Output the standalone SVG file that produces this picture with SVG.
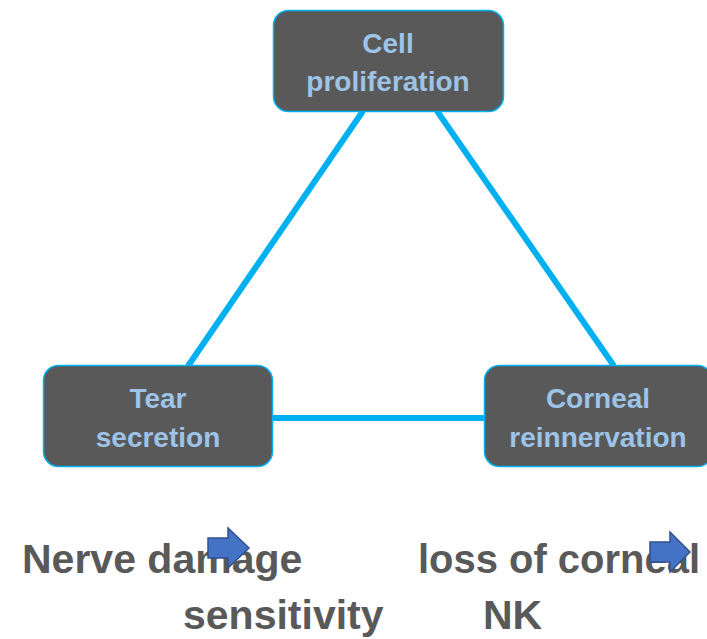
<svg xmlns="http://www.w3.org/2000/svg" width="707" height="639" viewBox="0 0 707 639">
<style>
.box{fill:#595959;stroke:#00B0F0;stroke-width:1.5}
.bt{font-family:"Liberation Sans",Arial,sans-serif;font-weight:bold;font-size:28px;fill:#9DC3E6;text-anchor:middle}
.conn{stroke:#00B0F0;stroke-width:6;fill:none}
.big{font-family:"Liberation Sans",Arial,sans-serif;font-weight:bold;font-size:41px;fill:#595959}
.arr{fill:#4472C4;stroke:#2F528F;stroke-width:1.5}
</style>
<rect width="707" height="639" fill="#fff"/>
<g id="connectors">
<line class="conn" x1="363" y1="111" x2="188" y2="366"/>
<line class="conn" x1="437" y1="111" x2="614" y2="366"/>
<line class="conn" x1="272" y1="418" x2="485" y2="418"/>
</g>
<g id="cell">
<rect class="box" x="273.5" y="10.5" width="230" height="101" rx="15"/>
<text class="bt" x="388" y="53">Cell</text>
<text class="bt" x="388" y="91">proliferation</text>
</g>
<g id="tear">
<rect class="box" x="43.5" y="365.5" width="229" height="101" rx="15"/>
<text class="bt" x="158" y="408">Tear</text>
<text class="bt" x="158" y="447">secretion</text>
</g>
<g id="corneal">
<rect class="box" x="484.5" y="365.5" width="228" height="101" rx="15"/>
<text class="bt" x="598" y="408">Corneal</text>
<text class="bt" x="598" y="447">reinnervation</text>
</g>
<g id="caption">
<text class="big" x="22" y="573">Nerve damage</text>
<text class="big" x="183" y="629">sensitivity</text>
<text class="big" x="418" y="573" textLength="282" lengthAdjust="spacingAndGlyphs">loss of corneal</text>
<text class="big" x="483" y="629">NK</text>
<path class="arr" d="M208,538 H228 V528 L249,548 L228,568 V558 H208 Z"/>
<path class="arr" d="M650,542 H670 V532 L690,552 L670,572 V562 H650 Z"/>
</g>
</svg>
